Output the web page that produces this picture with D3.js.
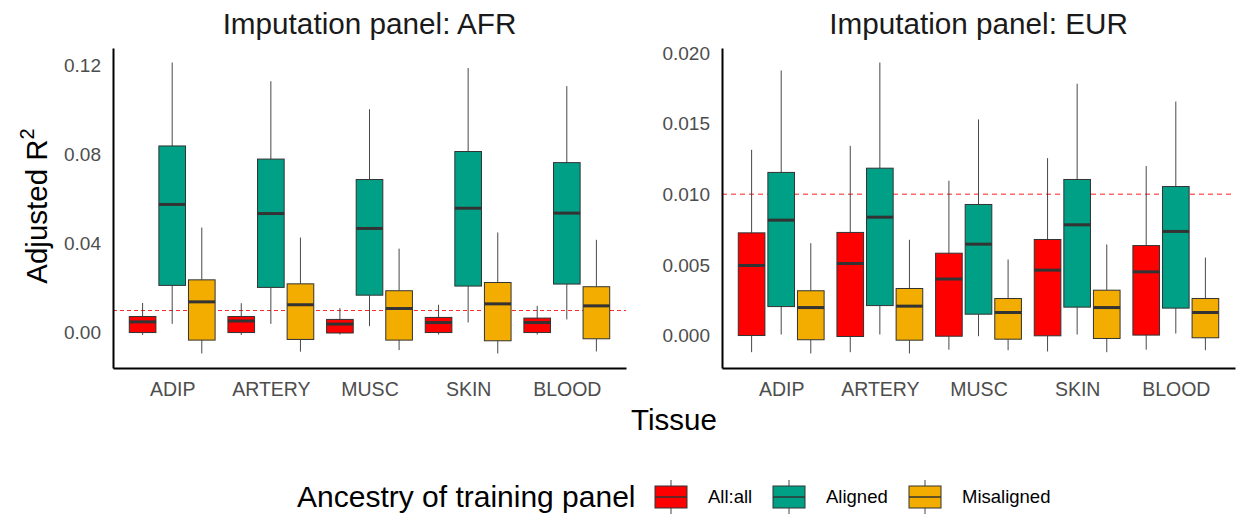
<!DOCTYPE html>
<html>
<head>
<meta charset="utf-8">
<script src="https://cdn.jsdelivr.net/npm/d3@7"></script>
<style>
  html, body { margin: 0; padding: 0; background: #ffffff; }
  svg { display: block; font-family: "Liberation Sans", Arial, sans-serif; }
</style>
</head>
<body>
<svg id="chart" width="1238" height="523"></svg>
<script>
// ---------------- data ----------------
const tissues = ["ADIP", "ARTERY", "MUSC", "SKIN", "BLOOD"];
const groups = ["All:all", "Aligned", "Misaligned"];
const groupColors = ["#FF0000", "#00A087", "#F2AD00"];
const panelTitles = ["Imputation panel: AFR", "Imputation panel: EUR"];
const afrTicks = [0, 0.04, 0.08, 0.12];
const eurTicks = [0, 0.005, 0.010, 0.015, 0.020];
const threshold = 0.01;

// each row: [lower whisker, Q1, median, Q3, upper whisker], one row per tissue
const afrAllAll = [
  [-0.0010, 0.0001, 0.0049, 0.0073, 0.0134],
  [-0.0010, 0.0001, 0.0053, 0.0073, 0.0133],
  [-0.0008, -0.0001, 0.0039, 0.0060, 0.0111],
  [-0.0008, 0.0001, 0.0046, 0.0069, 0.0126],
  [-0.0008, 0.0001, 0.0046, 0.0066, 0.0121]
];
const afrAligned = [
  [0.0040, 0.0213, 0.0577, 0.0840, 0.1215],
  [0.0040, 0.0204, 0.0536, 0.0781, 0.1131],
  [0.0030, 0.0169, 0.0469, 0.0689, 0.1005],
  [0.0046, 0.0210, 0.0560, 0.0815, 0.1190],
  [0.0060, 0.0219, 0.0538, 0.0765, 0.1109]
];
const afrMisaligned = [
  [-0.0093, -0.0033, 0.0139, 0.0238, 0.0473],
  [-0.0085, -0.0030, 0.0126, 0.0220, 0.0428],
  [-0.0078, -0.0033, 0.0109, 0.0189, 0.0378],
  [-0.0093, -0.0036, 0.0130, 0.0226, 0.0451],
  [-0.0084, -0.0027, 0.0121, 0.0207, 0.0418]
];
const eurAllAll = [
  [-0.00118, 0.00000, 0.00496, 0.00727, 0.01315],
  [-0.00118, -0.00007, 0.00510, 0.00730, 0.01343],
  [-0.00100, -0.00005, 0.00400, 0.00583, 0.01096],
  [-0.00113, -0.00002, 0.00463, 0.00680, 0.01256],
  [-0.00100, 0.00003, 0.00451, 0.00637, 0.01200]
];
const eurAligned = [
  [0.00007, 0.00205, 0.00817, 0.01155, 0.01877],
  [0.00007, 0.00212, 0.00838, 0.01185, 0.01933],
  [-0.00005, 0.00151, 0.00647, 0.00928, 0.01530],
  [0.00007, 0.00201, 0.00784, 0.01105, 0.01783],
  [0.00014, 0.00194, 0.00737, 0.01055, 0.01657]
];
const eurMisaligned = [
  [-0.00127, -0.00030, 0.00198, 0.00317, 0.00654],
  [-0.00127, -0.00033, 0.00208, 0.00333, 0.00678],
  [-0.00104, -0.00026, 0.00163, 0.00262, 0.00538],
  [-0.00118, -0.00021, 0.00198, 0.00321, 0.00645],
  [-0.00104, -0.00016, 0.00163, 0.00262, 0.00552]
];

const panels = [
  { title: panelTitles[0], series: [afrAllAll, afrAligned, afrMisaligned], ticks: afrTicks, fmt: d3.format(".2f"),
    x0: 113, x1: 626, dash: "4,3", dashColor: "rgba(255,0,0,0.85)", dashWidth: 1 },
  { title: panelTitles[1], series: [eurAllAll, eurAligned, eurMisaligned], ticks: eurTicks, fmt: d3.format(".3f"),
    x0: 722, x1: 1235, dash: "5,4", dashColor: "rgba(255,40,40,0.7)", dashWidth: 1.5 }
];

// ---------------- drawing ----------------
const svg = d3.select("#chart");
const plotTop = 48, plotBottom = 368;
const ink = "#333333";

panels.forEach(p => {
  const g = svg.append("g");
  const all = p.series.flat(2);
  const lo = d3.min(all), hi = d3.max(all), pad = (hi - lo) * 0.05;
  const y = d3.scaleLinear().domain([lo - pad, hi + pad]).range([plotBottom, plotTop]);
  const x = d3.scalePoint().domain(tissues).range([p.x0, p.x1]).padding(0.6);
  const step = x.step();
  const boxW = step * 0.27;
  const offsets = [-0.3, 0, 0.3];

  // threshold line
  g.append("line")
    .attr("x1", p.x0).attr("x2", p.x1)
    .attr("y1", y(threshold)).attr("y2", y(threshold))
    .attr("stroke", p.dashColor).attr("stroke-width", p.dashWidth)
    .attr("stroke-dasharray", p.dash);

  p.series.forEach((rows, gi) => {
    rows.forEach((v, ti) => {
      const cx = x(tissues[ti]) + offsets[gi] * step;
      const [wl, q1, med, q3, wh] = v;
      const bg = g.append("g");
      bg.append("line").attr("x1", cx).attr("x2", cx).attr("y1", y(q3)).attr("y2", y(wh))
        .attr("stroke", ink).attr("stroke-width", 0.9);
      bg.append("line").attr("x1", cx).attr("x2", cx).attr("y1", y(q1)).attr("y2", y(wl))
        .attr("stroke", ink).attr("stroke-width", 0.9);
      bg.append("rect")
        .attr("x", cx - boxW / 2).attr("width", boxW)
        .attr("y", y(q3)).attr("height", y(q1) - y(q3))
        .attr("fill", groupColors[gi]).attr("stroke", ink).attr("stroke-width", 1);
      bg.append("line").attr("x1", cx - boxW / 2).attr("x2", cx + boxW / 2)
        .attr("y1", y(med)).attr("y2", y(med))
        .attr("stroke", ink).attr("stroke-width", 3);
    });
  });

  // y axis
  const ya = g.append("g").attr("transform", `translate(${p.x0},0)`)
    .call(d3.axisLeft(y).tickValues(p.ticks).tickFormat(p.fmt).tickSize(0).tickPadding(12));
  ya.select(".domain").attr("stroke", "#000").attr("stroke-width", 2);
  ya.selectAll("text").attr("fill", "#4d4d4d").style("font-size", "19px")
    .style("font-family", "'Liberation Sans', Arial, sans-serif");

  // x axis
  const xa = g.append("g").attr("transform", `translate(0,${plotBottom})`)
    .call(d3.axisBottom(x).tickSize(0).tickPadding(14));
  xa.select(".domain").attr("stroke", "#000").attr("stroke-width", 2);
  xa.selectAll("text").attr("fill", "#4d4d4d").style("font-size", "19.5px")
    .style("font-family", "'Liberation Sans', Arial, sans-serif");

  // panel title
  g.append("text").attr("x", (p.x0 + p.x1) / 2).attr("y", 34)
    .attr("text-anchor", "middle").attr("fill", "#1a1a1a")
    .style("font-size", "29.7px").text(p.title);
});

// axis titles
svg.append("text").attr("x", 674).attr("y", 430).attr("text-anchor", "middle")
  .style("font-size", "29.5px").attr("fill", "#000").text("Tissue");

const yt = svg.append("text")
  .attr("transform", "translate(47,206) rotate(-90)")
  .attr("text-anchor", "middle").style("font-size", "29.5px").attr("fill", "#000");
yt.append("tspan").text("Adjusted R");
yt.append("tspan").attr("dy", -13).style("font-size", "20px").text("2");

// legend
const lg = svg.append("g");
lg.append("text").attr("x", 297).attr("y", 507).style("font-size", "30px").attr("fill", "#000")
  .text("Ancestry of training panel");
const keyX = [655, 773, 909];
const labX = [708, 826, 962];
groups.forEach((name, i) => {
  const kx = keyX[i], kw = 32, ky = 486, kh = 22, cx = kx + kw / 2;
  lg.append("line").attr("x1", cx).attr("x2", cx).attr("y1", 480).attr("y2", 514)
    .attr("stroke", ink).attr("stroke-width", 0.9);
  lg.append("rect").attr("x", kx).attr("y", ky).attr("width", kw).attr("height", kh)
    .attr("fill", groupColors[i]).attr("stroke", ink).attr("stroke-width", 1);
  lg.append("line").attr("x1", kx).attr("x2", kx + kw).attr("y1", ky + kh / 2).attr("y2", ky + kh / 2)
    .attr("stroke", ink).attr("stroke-width", 1.5);
  lg.append("text").attr("x", labX[i]).attr("y", 503).style("font-size", "18.5px").attr("fill", "#000")
    .text(name);
});
</script>
</body>
</html>
